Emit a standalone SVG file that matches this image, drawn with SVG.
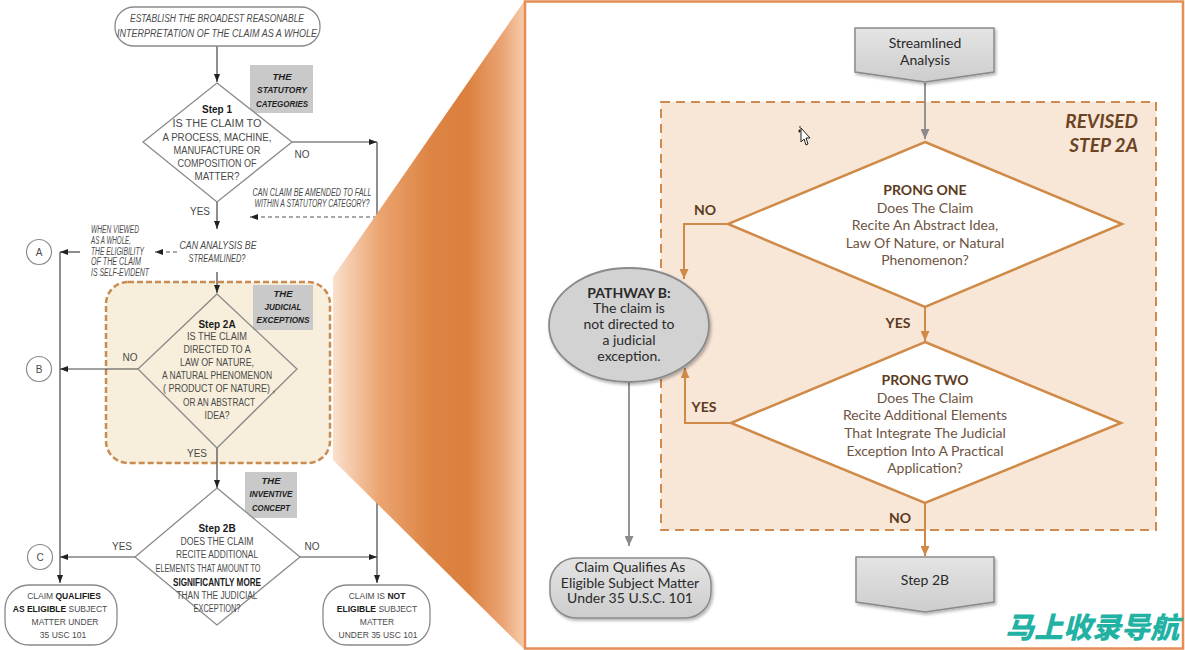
<svg xmlns="http://www.w3.org/2000/svg" width="1185" height="650" viewBox="0 0 1185 650">
<style>
.lt{font-family:"Liberation Sans",Arial,sans-serif;font-size:10px;fill:#4a4a4a;text-anchor:middle}
.tm{font-size:8.5px}
.it{font-style:italic}
.bd{font-weight:bold;fill:#1a1a1a}
.gb{font-family:"Liberation Sans",Arial,sans-serif;font-size:9.5px;font-weight:bold;font-style:italic;fill:#222;text-anchor:middle}
.ln{stroke:#444;stroke-width:1.2;fill:none}
.dl{stroke:#555;stroke-width:1.2;fill:none;stroke-dasharray:4 3}
.term{fill:#fff;stroke:#8a8a8a;stroke-width:1.3}
.dia{fill:#fff;stroke:#8a8a8a;stroke-width:1.3}
.gbox{fill:#c9c9c9}
.rt{font-family:Lato,"Open Sans",sans-serif;font-size:14px;fill:#6e5443;text-anchor:middle}
.rb{font-weight:bold;fill:#5c3b1e}
.gt{font-family:Lato,"Open Sans",sans-serif;font-size:14px;fill:#2a2a2a;text-anchor:middle}
.ol{stroke:#d08a48;stroke-width:2;fill:none}
.gl{stroke:#8a8a8a;stroke-width:1.8;fill:none}
.pr{fill:#fff;stroke:#d08a48;stroke-width:2.5}
.gs{fill:url(#gg);stroke:#8a8a8a;stroke-width:1.5;filter:url(#sh)}
</style>
<defs>
<marker id="ah" markerUnits="userSpaceOnUse" markerWidth="8" markerHeight="6" refX="8" refY="3" orient="auto"><path d="M0,0 L8,3 L0,6 z" fill="#222"/></marker>
<marker id="ao" markerUnits="userSpaceOnUse" markerWidth="10" markerHeight="9" refX="10" refY="4.5" orient="auto"><path d="M0,0 L10,4.5 L0,9 z" fill="#d08a48"/></marker>
<marker id="ag" markerUnits="userSpaceOnUse" markerWidth="10" markerHeight="9" refX="10" refY="4.5" orient="auto"><path d="M0,0 L10,4.5 L0,9 z" fill="#8a8a8a"/></marker>
<linearGradient id="wg" gradientUnits="userSpaceOnUse" x1="333" y1="0" x2="525" y2="0">
<stop offset="0" stop-color="#fae0cc"/>
<stop offset="0.25" stop-color="#eba36e"/>
<stop offset="0.5" stop-color="#dd8545"/>
<stop offset="0.7" stop-color="#db803e"/>
<stop offset="0.88" stop-color="#eaa373"/>
<stop offset="1" stop-color="#f7cdac"/>
</linearGradient>
<linearGradient id="gg" x1="0" y1="0" x2="0" y2="1">
<stop offset="0" stop-color="#e4e4e4"/>
<stop offset="1" stop-color="#cdcdcd"/>
</linearGradient>
<filter id="sh" x="-20%" y="-20%" width="150%" height="150%">
<feDropShadow dx="1.5" dy="2" stdDeviation="1.5" flood-color="#000" flood-opacity="0.3"/>
</filter>
</defs>
<rect width="1185" height="650" fill="#fff"/>

<!-- LEFT DIAGRAM -->
<g id="left-panel">
<g id="step2a-zone"><rect x="106" y="282" width="224" height="181" rx="22" fill="#f7efdb" stroke="#c98b52" stroke-width="2.5" stroke-dasharray="6 3"/></g>

<g id="left-connectors">
<line class="ln" x1="217" y1="46" x2="217" y2="82" marker-end="url(#ah)"/>
<line class="ln" x1="292" y1="142" x2="377" y2="142" marker-end="url(#ah)"/>
<line class="ln" x1="377" y1="142" x2="377" y2="583" marker-end="url(#ah)"/>
<line class="dl" x1="377" y1="217" x2="250" y2="217" marker-end="url(#ah)"/>
<line class="ln" x1="217" y1="202" x2="217" y2="229" marker-end="url(#ah)"/>
<line class="dl" x1="177" y1="252" x2="155" y2="252" marker-end="url(#ah)"/>
<line class="ln" x1="80" y1="252" x2="60" y2="252" marker-end="url(#ah)"/>
<line class="ln" x1="60" y1="252" x2="60" y2="583" marker-end="url(#ah)"/>
<line class="ln" x1="217" y1="272" x2="217" y2="293" marker-end="url(#ah)"/>
<line class="ln" x1="138" y1="369" x2="60" y2="369" marker-end="url(#ah)"/>
<line class="ln" x1="217" y1="448" x2="217" y2="488" marker-end="url(#ah)"/>
<line class="ln" x1="135" y1="557" x2="60" y2="557" marker-end="url(#ah)"/>
<line class="ln" x1="300" y1="557" x2="377" y2="557" marker-end="url(#ah)"/>
<text class="lt" x="302" y="157.5">NO</text>
<text class="lt" x="200" y="214.5">YES</text>
<text class="lt" x="130" y="360.5">NO</text>
<text class="lt" x="197" y="456.5">YES</text>
<text class="lt" x="122" y="549.5">YES</text>
<text class="lt" x="312" y="549.5">NO</text>
<text class="lt it" x="312" y="196" font-size="8" textLength="119" lengthAdjust="spacingAndGlyphs">CAN CLAIM BE AMENDED TO FALL</text>
<text class="lt it" x="312" y="207" font-size="8" textLength="115" lengthAdjust="spacingAndGlyphs">WITHIN A STATUTORY CATEGORY?</text>
</g>

<g id="start">
<rect class="term" x="115" y="7" width="205" height="39" rx="19"/>
<text class="lt it" x="217" y="21.5" textLength="174" lengthAdjust="spacingAndGlyphs">ESTABLISH THE BROADEST REASONABLE</text>
<text class="lt it" x="217" y="36.5" textLength="200" lengthAdjust="spacingAndGlyphs">INTERPRETATION OF THE CLAIM AS A WHOLE</text>
</g>

<g id="statutory-label">
<rect class="gbox" x="250" y="65" width="63" height="48"/>
<text class="gb" x="282" y="79.5">THE</text>
<text class="gb" x="282" y="93" textLength="50" lengthAdjust="spacingAndGlyphs">STATUTORY</text>
<text class="gb" x="282" y="106.5" textLength="52" lengthAdjust="spacingAndGlyphs">CATEGORIES</text>
</g>

<g id="step1">
<polygon class="dia" points="217,83 292,142 217,202 143,142"/>
<text class="lt bd" x="217" y="113" font-size="9">Step 1</text>
<text class="lt" x="217" y="126.5" textLength="89" lengthAdjust="spacingAndGlyphs">IS THE CLAIM TO</text>
<text class="lt" x="217" y="140.5" textLength="109" lengthAdjust="spacingAndGlyphs">A PROCESS, MACHINE,</text>
<text class="lt" x="217" y="153.5" textLength="87" lengthAdjust="spacingAndGlyphs">MANUFACTURE OR</text>
<text class="lt" x="217" y="166.5" textLength="79" lengthAdjust="spacingAndGlyphs">COMPOSITION OF</text>
<text class="lt" x="217" y="179.5" textLength="45" lengthAdjust="spacingAndGlyphs">MATTER?</text>
</g>

<g id="streamlined-q">
<text class="lt it" x="218" y="248.5" textLength="77" lengthAdjust="spacingAndGlyphs">CAN ANALYSIS BE</text>
<text class="lt it" x="217" y="261.5" textLength="57" lengthAdjust="spacingAndGlyphs">STREAMLINED?</text>
</g>

<g id="self-evident">
<text class="lt it" x="91" y="232.5" font-size="7" style="text-anchor:start" textLength="48" lengthAdjust="spacingAndGlyphs">WHEN VIEWED</text>
<text class="lt it" x="91" y="243.5" font-size="7" style="text-anchor:start" textLength="40" lengthAdjust="spacingAndGlyphs">AS A WHOLE,</text>
<text class="lt it" x="91" y="254.5" font-size="7" style="text-anchor:start" textLength="53" lengthAdjust="spacingAndGlyphs">THE ELIGIBILITY</text>
<text class="lt it" x="91" y="265" font-size="7" style="text-anchor:start" textLength="50" lengthAdjust="spacingAndGlyphs">OF THE CLAIM</text>
<text class="lt it" x="91" y="275.5" font-size="7" style="text-anchor:start" textLength="58" lengthAdjust="spacingAndGlyphs">IS SELF-EVIDENT</text>
</g>

<g id="circle-a"><circle cx="39" cy="252" r="12.5" fill="#fff" stroke="#8a8a8a" stroke-width="1.2"/><text class="lt" x="39" y="255.5" font-size="9">A</text></g>
<g id="circle-b"><circle cx="39" cy="369" r="12.5" fill="#fff" stroke="#8a8a8a" stroke-width="1.2"/><text class="lt" x="39" y="372.5" font-size="9">B</text></g>
<g id="circle-c"><circle cx="40" cy="557" r="12.5" fill="#fff" stroke="#8a8a8a" stroke-width="1.2"/><text class="lt" x="40" y="560.5" font-size="9">C</text></g>

<g id="judicial-label">
<rect class="gbox" x="253" y="285" width="60" height="45"/>
<text class="gb" x="283" y="296.5">THE</text>
<text class="gb" x="283" y="309.5" textLength="37" lengthAdjust="spacingAndGlyphs">JUDICIAL</text>
<text class="gb" x="283" y="322.5" textLength="53" lengthAdjust="spacingAndGlyphs">EXCEPTIONS</text>
</g>

<g id="step2a">
<polygon points="217,294 297,369 217,448 138,369" fill="none" stroke="#8a8a8a" stroke-width="1.3"/>
<text class="lt bd" x="217" y="327.5" font-size="9">Step 2A</text>
<text class="lt" x="217" y="339.5" textLength="60" lengthAdjust="spacingAndGlyphs">IS THE CLAIM</text>
<text class="lt" x="217" y="352.5" textLength="67" lengthAdjust="spacingAndGlyphs">DIRECTED TO A</text>
<text class="lt" x="217" y="365.5" textLength="74" lengthAdjust="spacingAndGlyphs">LAW OF NATURE,</text>
<text class="lt" x="217" y="378.5" textLength="110" lengthAdjust="spacingAndGlyphs">A NATURAL PHENOMENON</text>
<text class="lt" x="219" y="391.5" textLength="112" lengthAdjust="spacingAndGlyphs">( PRODUCT OF NATURE) ,</text>
<text class="lt" x="219" y="405.5" textLength="72" lengthAdjust="spacingAndGlyphs">OR AN ABSTRACT</text>
<text class="lt" x="217" y="418.5" textLength="25" lengthAdjust="spacingAndGlyphs">IDEA?</text>
</g>

<g id="inventive-label">
<rect class="gbox" x="245" y="472" width="52" height="46"/>
<text class="gb" x="271" y="483.5">THE</text>
<text class="gb" x="271" y="496.5" textLength="43" lengthAdjust="spacingAndGlyphs">INVENTIVE</text>
<text class="gb" x="271" y="510.5" textLength="38" lengthAdjust="spacingAndGlyphs">CONCEPT</text>
</g>

<g id="step2b">
<polygon class="dia" points="217,488 300,557 217,625 135,557"/>
<text class="lt bd" x="217" y="531.5" font-size="9">Step 2B</text>
<text class="lt" x="217" y="544.5" textLength="73" lengthAdjust="spacingAndGlyphs">DOES THE CLAIM</text>
<text class="lt" x="217" y="557.5" textLength="82" lengthAdjust="spacingAndGlyphs">RECITE ADDITIONAL</text>
<text class="lt" x="208" y="571.5" textLength="105" lengthAdjust="spacingAndGlyphs">ELEMENTS THAT AMOUNT TO</text>
<text class="lt bd" x="217" y="585.5" textLength="88" lengthAdjust="spacingAndGlyphs">SIGNIFICANTLY MORE</text>
<text class="lt" x="217" y="598.5" textLength="81" lengthAdjust="spacingAndGlyphs">THAN THE JUDICIAL</text>
<text class="lt" x="217" y="611.5" textLength="47" lengthAdjust="spacingAndGlyphs">EXCEPTION?</text>
</g>

<g id="eligible">
<rect class="term" x="5" y="585" width="112" height="60" rx="24"/>
<text class="lt tm" x="64" y="599">CLAIM <tspan class="bd">QUALIFIES</tspan></text>
<text class="lt tm" x="60" y="612"><tspan class="bd">AS ELIGIBLE</tspan> SUBJECT</text>
<text class="lt tm" x="65" y="625">MATTER UNDER</text>
<text class="lt tm" x="63" y="638">35 USC 101</text>
</g>

<g id="not-eligible">
<rect class="term" x="323" y="585" width="107" height="60" rx="24"/>
<text class="lt tm" x="377" y="599">CLAIM IS <tspan class="bd">NOT</tspan></text>
<text class="lt tm" x="377" y="612"><tspan class="bd">ELIGIBLE</tspan> SUBJECT</text>
<text class="lt tm" x="377" y="625">MATTER</text>
<text class="lt tm" x="378" y="638">UNDER 35 USC 101</text>
</g>
</g>

<!-- ZOOM WEDGE -->
<g id="wedge"><polygon points="333,277 525,0 525,650 333,460" fill="url(#wg)"/></g>

<!-- RIGHT PANEL -->
<g id="right-panel">
<rect x="525" y="1.5" width="658" height="647" fill="#fff" stroke="#e58d55" stroke-width="2.5"/>

<g id="revised-zone">
<rect x="661" y="102" width="495" height="428" fill="#f8e6d7" stroke="#cf8b4f" stroke-width="2" stroke-dasharray="9 6"/>
<text x="1138" y="128" font-family="Lato,'Open Sans',sans-serif" font-size="19" font-weight="bold" font-style="italic" fill="#6b4423" text-anchor="end">REVISED</text>
<text x="1138" y="152" font-family="Lato,'Open Sans',sans-serif" font-size="19" font-weight="bold" font-style="italic" fill="#6b4423" text-anchor="end">STEP 2A</text>
</g>

<g id="right-connectors">
<line class="gl" x1="925" y1="83" x2="925" y2="139" marker-end="url(#ag)"/>
<polyline class="ol" points="728,224 684,224 684,279" marker-end="url(#ao)"/>
<line class="ol" x1="925" y1="307" x2="925" y2="341" marker-end="url(#ao)"/>
<polyline class="ol" points="731,423 685,423 685,368" marker-end="url(#ao)"/>
<line class="ol" x1="925" y1="503" x2="925" y2="556" marker-end="url(#ao)"/>
<line class="gl" x1="629" y1="383" x2="629" y2="546" marker-end="url(#ag)"/>
<text class="rt rb" x="705" y="215">NO</text>
<text class="rt rb" x="898" y="328">YES</text>
<text class="rt rb" x="704" y="412">YES</text>
<text class="rt rb" x="900" y="523">NO</text>
</g>

<g id="streamlined">
<path class="gs" d="M855,28 H994 V72 L925,82 L855,72 Z"/>
<text class="gt" x="925" y="48">Streamlined</text>
<text class="gt" x="925" y="65">Analysis</text>
</g>

<g id="prong-one">
<polygon class="pr" points="925,142 1122,224 925,307 728,224"/>
<text class="rt rb" x="925" y="195">PRONG ONE</text>
<text class="rt" x="925" y="213">Does The Claim</text>
<text class="rt" x="925" y="230">Recite An Abstract Idea,</text>
<text class="rt" x="925" y="248">Law Of Nature, or Natural</text>
<text class="rt" x="925" y="265">Phenomenon?</text>
</g>

<g id="prong-two">
<polygon class="pr" points="925,342 1121,423 925,503 731,423"/>
<text class="rt rb" x="925" y="385">PRONG TWO</text>
<text class="rt" x="925" y="403">Does The Claim</text>
<text class="rt" x="925" y="420">Recite Additional Elements</text>
<text class="rt" x="925" y="438">That Integrate The Judicial</text>
<text class="rt" x="925" y="456">Exception Into A Practical</text>
<text class="rt" x="925" y="473">Application?</text>
</g>

<g id="pathway-b">
<ellipse cx="629" cy="325" rx="80" ry="57" fill="#d2d2d2" stroke="#8a8a8a" stroke-width="1.8" filter="url(#sh)"/>
<text class="gt" x="629" y="298" font-weight="bold">PATHWAY B:</text>
<text class="gt" x="629" y="313">The claim is</text>
<text class="gt" x="629" y="329">not directed to</text>
<text class="gt" x="629" y="345">a judicial</text>
<text class="gt" x="629" y="361">exception.</text>
</g>

<g id="claim-qualifies">
<rect class="gs" x="550" y="558" width="161" height="60" rx="26"/>
<text class="gt" x="630" y="572" font-size="15">Claim Qualifies As</text>
<text class="gt" x="630" y="588" font-size="15">Eligible Subject Matter</text>
<text class="gt" x="630" y="603" font-size="15">Under 35 U.S.C. 101</text>
</g>

<g id="step2b-box">
<path class="gs" d="M856,557 H994 V602 L925,612 L856,602 Z"/>
<text class="gt" x="925" y="585" font-size="15">Step 2B</text>
</g>

<g id="cursor">
<path d="M801,128 L801,142 L804,139 L806,145 L808,144 L806,138 L810,138 Z" fill="#fff" stroke="#222" stroke-width="1"/>
<path d="M798,131 H801 M799.5,129.5 V132.5 M800,126 V128" stroke="#222" stroke-width="1"/>
</g>

<text x="1005" y="638" font-family="'Noto Sans CJK SC',sans-serif" font-size="29" font-weight="900" font-style="italic" fill="#22b2a3">马上收录导航</text>
</g>
</svg>
